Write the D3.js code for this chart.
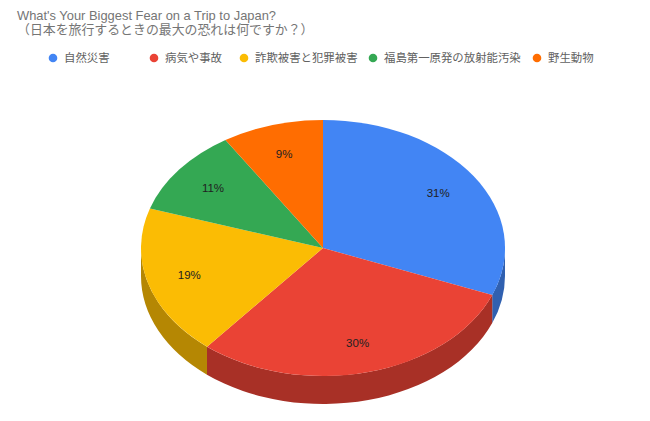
<!DOCTYPE html>
<html>
<head>
<meta charset="utf-8">
<script src="https://cdn.jsdelivr.net/npm/d3@7"></script>
<style>
	html, body { margin: 0; padding: 0; background: #fff; }
	svg { display: block; }
</style>
</head>
<body>
<div id="chart-area"></div>
<script>
const categories = ["自然災害", "病気や事故", "詐欺被害と犯罪被害", "福島第一原発の放射能汚染", "野生動物"]
const values = [31, 30, 19, 11, 9]
const colors = ["#4285f4", "#ea4335", "#fbbc04", "#34a853", "#ff6d01"]
const titleLines = ["What's Your Biggest Fear on a Trip to Japan?", "（日本を旅行するときの最大の恐れは何ですか？）"]

const WIDTH = 650
const HEIGHT = 421
const CENTER = { X: 323, Y: 248 }
const RX = 182
const RY = 128
const DEPTH = 28
const LABEL_RADIUS = 0.765
const SHADE = 0.72

// legend dot positions, text sits 11px to the right
const legendX = [53, 154, 244, 373, 537]

const svg = d3.select("#chart-area").append("svg")
	.attr("width", WIDTH)
	.attr("height", HEIGHT)

// Title
svg.selectAll("text.title")
	.data(titleLines)
	.enter().append("text")
	.attr("class", "title")
	.attr("x", 17)
	.attr("y", (d, i) => 20 + i * 14)
	.attr("font-family", "'Liberation Sans', 'Noto Sans CJK JP', sans-serif")
	.attr("font-size", "12.9px")
	.attr("fill", "#757575")
	.text(d => d)

// Legend
const legend = svg.selectAll("g.legend")
	.data(categories)
	.enter().append("g")
	.attr("class", "legend")
	.attr("transform", (d, i) => `translate(${legendX[i]}, 58)`)

legend.append("circle")
	.attr("r", 4.3)
	.attr("fill", (d, i) => colors[i])

legend.append("text")
	.attr("x", 11)
	.attr("y", 4)
	.attr("font-family", "'Noto Sans CJK JP', sans-serif")
	.attr("font-size", "11.4px")
	.attr("fill", "#616161")
	.text(d => d)

// Pie slices, start at 12 o'clock going clockwise
const pie = d3.pie().sort(null).value(d => d)
const slices = pie(values)

const g = svg.append("g")
	.attr("transform", `translate(${CENTER.X}, ${CENTER.Y})`)

// point on the ellipse for a pie angle
const px = a => RX * Math.sin(a)
const py = a => -RY * Math.cos(a)

// Side wall, only the front half of the ellipse is visible
const wallPath = d => {
	const a0 = Math.max(d.startAngle, Math.PI / 2)
	const a1 = Math.min(d.endAngle, Math.PI * 1.5)
	if (a0 >= a1) return null
	return `M${px(a0)},${py(a0)}`
		+ `A${RX},${RY} 0 0 1 ${px(a1)},${py(a1)}`
		+ `L${px(a1)},${py(a1) + DEPTH}`
		+ `A${RX},${RY} 0 0 0 ${px(a0)},${py(a0) + DEPTH}Z`
}

g.selectAll("path.wall")
	.data(slices)
	.enter().append("path")
	.attr("class", "wall")
	.attr("d", wallPath)
	.attr("fill", (d, i) => {
		const c = d3.rgb(colors[i])
		return d3.rgb(c.r * SHADE, c.g * SHADE, c.b * SHADE).formatHex()
	})

// Top face, unit arc scaled to the ellipse
const arc = d3.arc().innerRadius(0).outerRadius(1)

g.append("g")
	.attr("transform", `scale(${RX}, ${RY})`)
	.selectAll("path.slice")
	.data(slices)
	.enter().append("path")
	.attr("class", "slice")
	.attr("d", arc)
	.attr("fill", (d, i) => colors[i])

// Percent labels
g.selectAll("text.label")
	.data(slices)
	.enter().append("text")
	.attr("class", "label")
	.attr("x", d => px((d.startAngle + d.endAngle) / 2) * LABEL_RADIUS)
	.attr("y", d => py((d.startAngle + d.endAngle) / 2) * LABEL_RADIUS)
	.attr("dy", "0.35em")
	.attr("text-anchor", "middle")
	.attr("font-family", "'Liberation Sans', sans-serif")
	.attr("font-size", "11.5px")
	.attr("fill", "#212121")
	.text(d => `${d.value}%`)
</script>
</body>
</html>
